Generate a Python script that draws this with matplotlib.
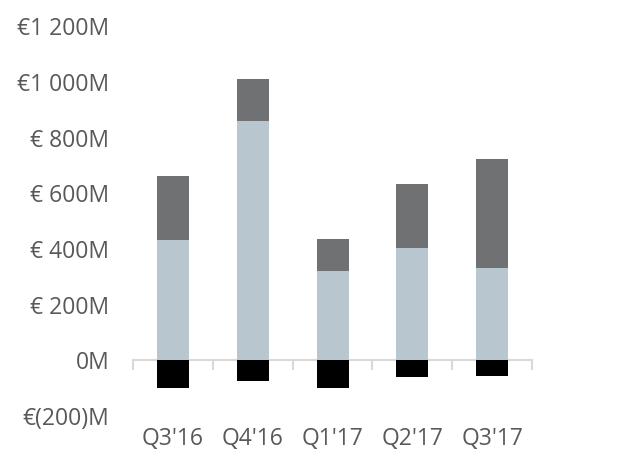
import matplotlib
matplotlib.use("Agg")
import matplotlib.pyplot as plt
import numpy as np

categories = ["Q3'16", "Q4'16", "Q1'17", "Q2'17", "Q3'17"]
base_vals = [432, 858, 321, 403, 331]
top_vals = [230, 153, 114, 229, 392]
neg_vals = [-100, -75, -98, -60, -56]
ytick_vals = [-200, 0, 200, 400, 600, 800, 1000, 1200]
ytick_labels = ["€(200)M", "0M", "€ 200M", "€ 400M", "€ 600M", "€ 800M", "€1 000M", "€1 200M"]

plt.rcParams['font.family'] = ['Open Sans', 'DejaVu Sans']

fig = plt.figure(figsize=(6.42, 4.5), dpi=100)
ax = fig.add_axes([0.207, 0.0756, 0.622, 0.866])

x = np.arange(len(categories))
w = 0.4
ax.bar(x, base_vals, width=w, color="#b8c7cf", zorder=2)
ax.bar(x, top_vals, width=w, bottom=base_vals, color="#707173", zorder=2)
ax.bar(x, neg_vals, width=w, color="#000000", zorder=2)

ax.set_xlim(-0.5, len(categories) - 0.5)
ax.set_ylim(-200, 1200)

for s in ["top", "right", "left"]:
    ax.spines[s].set_visible(False)
ax.spines["bottom"].set_position(("data", 0))
ax.spines["bottom"].set_color("#d9d9d9")
ax.spines["bottom"].set_linewidth(1.5)
ax.spines["bottom"].set_zorder(1)
ax.set_xticks(np.arange(-0.5, len(categories), 1.0))
ax.tick_params(axis="x", length=7, width=1.5, color="#d9d9d9", labelbottom=False, direction="out")

ax.set_yticks(ytick_vals)
ax.set_yticklabels(ytick_labels)
ax.tick_params(axis="y", length=0, pad=17, labelsize=16.5, labelcolor="#595959")

sec = ax.secondary_xaxis(0)
sec.set_xticks(x)
sec.set_xticklabels(categories)
sec.tick_params(length=0, pad=8, labelsize=16.5, labelcolor="#595959")
sec.spines["bottom"].set_visible(False)

fig.savefig("out.png", dpi=100)
